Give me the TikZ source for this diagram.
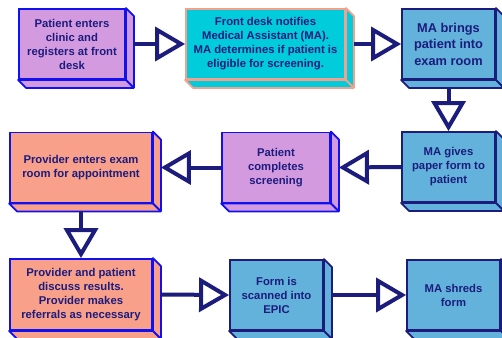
\documentclass[tikz,border=0pt]{standalone}
\usepackage{fontspec}
\setmainfont{Liberation Sans}
\usetikzlibrary{arrows.meta}

\definecolor{navy}{HTML}{1C1C7C}
\definecolor{edgeblue}{HTML}{1010F0}
\definecolor{orchidfill}{HTML}{D49AE0}
\definecolor{salmonfill}{HTML}{F8A08A}
\definecolor{salmonedge}{HTML}{F4A08C}
\definecolor{cyanfill}{HTML}{00CCDC}
\definecolor{bluefill}{HTML}{62B2DC}

\tikzset{
  box/.style={draw, line width=1.8pt, align=center, text=navy, inner sep=0pt,
    font=\fontsize{11.3}{14}\selectfont\bfseries},
  flow/.style={draw=navy, line width=4pt,
    -{Triangle[open, length=30pt, width=34pt]}},
}

% the slanted side and bottom of a box: node, fill, edge
\newcommand{\sideface}[3]{
\draw [line width=1.8pt, fill=#2, draw=#3, line join=round] (#1.north east)
  -- ([shift={(8,8)}]#1.north east) -- ([shift={(8,8)}]#1.south east)
  -- ([shift={(8,8)}]#1.south west) -- (#1.south west) -- (#1.south east) -- cycle;
\draw [line width=1.8pt, draw=#3] (#1.south east) -- ([shift={(8,8)}]#1.south east);
}

\begin{document}
\begin{tikzpicture}[x=1pt,y=-1pt]
\useasboundingbox (0,0) rectangle (502,337);
\clip (0,0) rectangle (502,337);

% top row
\node (arrive) [box, fill=orchidfill, draw=edgeblue, minimum width=106pt, minimum height=70pt]
  at (72,44) {Patient enters\\clinic and\\registers at front\\desk};
\sideface{arrive}{orchidfill}{edgeblue}
\node (notify) [box, fill=cyanfill, draw=salmonedge, minimum width=159pt, minimum height=70pt]
  at (265.5,44) {Front desk notifies\\Medical Assistant (MA).\\MA determines if patient is\\eligible for screening.};
\sideface{notify}{cyanfill}{salmonedge}
\node (exam) [box, fill=bluefill, draw=navy, minimum width=93pt, minimum height=70pt,
  font=\fontsize{12.8}{16.5}\selectfont\bfseries]
  at (448.5,44) {MA brings\\patient into\\exam room};
\sideface{exam}{bluefill}{navy}

% middle row
\node (form) [box, fill=bluefill, draw=navy, minimum width=93pt, minimum height=70pt]
  at (448.5,167) {MA gives\\paper form to\\patient};
\sideface{form}{bluefill}{navy}
\node (screen) [box, fill=orchidfill, draw=edgeblue, minimum width=108pt, minimum height=70pt]
  at (276,167.5) {Patient\\completes\\screening};
\sideface{screen}{orchidfill}{edgeblue}
\node (provider) [box, fill=salmonfill, draw=edgeblue, minimum width=142pt, minimum height=70pt]
  at (81,167.5) {Provider enters exam\\room for appointment};
\sideface{provider}{salmonfill}{edgeblue}

% bottom row
\node (discuss) [box, fill=salmonfill, draw=edgeblue, minimum width=142pt, minimum height=71pt]
  at (81,294.5) {Provider and patient\\discuss results.\\Provider makes\\referrals as necessary};
\sideface{discuss}{salmonfill}{edgeblue}
\node (scan) [box, fill=bluefill, draw=navy, minimum width=93pt, minimum height=70pt]
  at (276.5,295) {Form is\\scanned into\\EPIC};
\sideface{scan}{bluefill}{navy}
\node (shred) [box, fill=bluefill, draw=navy, minimum width=93pt, minimum height=70pt]
  at (453.5,295) {MA shreds\\form};
\sideface{shred}{bluefill}{navy}

% connectors
\draw [flow] ([xshift=8pt]arrive.east) -- (notify.west);
\draw [flow] ([xshift=8pt]notify.east) -- (exam.west);
\draw [flow] ([yshift=-8pt]exam.south) -- (form.north);
\draw [flow] (form.west) -- ([xshift=8pt]screen.east);
\draw [flow] (screen.west) -- ([xshift=8pt]provider.east);
\draw [flow] ([yshift=-8pt]provider.south) -- (discuss.north);
\draw [flow] ([xshift=8pt]discuss.east) -- (scan.west);
\draw [flow] ([xshift=8pt]scan.east) -- (shred.west);
\end{tikzpicture}
\end{document}
